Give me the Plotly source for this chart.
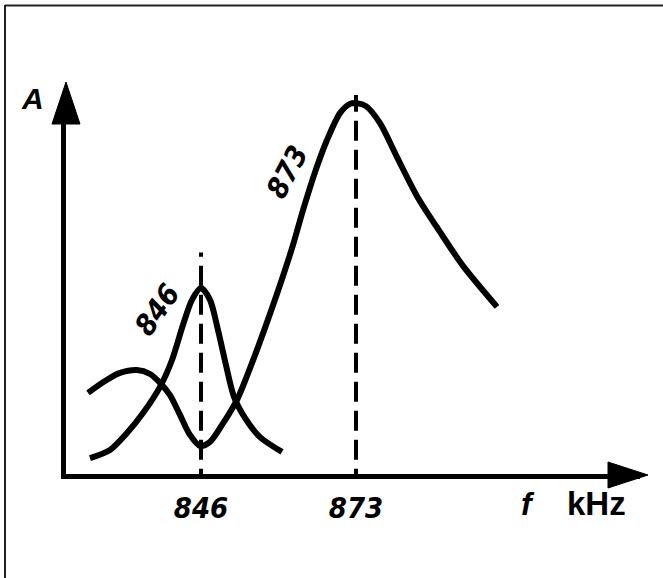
import plotly.graph_objects as go

# ---- data (frequency in kHz, relative amplitude) ----
f_846 = [826.66, 830.15, 833.11, 835.90, 838.86, 840.95, 842.86, 844.43, 846.00,
         847.57, 848.96, 850.35, 851.75, 853.66, 856.28, 860.11]
a_846 = [0.043, 0.065, 0.111, 0.165, 0.236, 0.309, 0.404, 0.472, 0.504,
         0.472, 0.390, 0.295, 0.209, 0.152, 0.100, 0.060]

f_873 = [826.32, 829.28, 831.89, 834.85, 837.12, 838.86, 840.60, 842.34, 844.08,
         845.83, 847.57, 849.66, 852.27, 854.54, 857.15, 859.76, 862.03, 863.77,
         865.86, 867.95, 870.21, 871.96, 873.17, 874.74, 877.18, 880.14, 883.63,
         887.63, 891.64, 897.56]
a_873 = [0.220, 0.252, 0.274, 0.282, 0.271, 0.247, 0.214, 0.160, 0.106,
         0.076, 0.087, 0.133, 0.201, 0.287, 0.396, 0.512, 0.621, 0.715,
         0.818, 0.905, 0.978, 1.003, 1.005, 0.997, 0.951, 0.859, 0.753,
         0.656, 0.564, 0.453]

tick_vals = [846, 873]
tick_text = ["846", "873"]

W, H = 663, 578
def px(x):
    return x / W
def py(y):
    return 1 - y / H

X_RANGE = [822.484, 922.471]
Y_RANGE = [0.0, 1.0271]

digit_font = dict(family="DejaVu Sans Condensed, Liberation Sans Narrow, Liberation Sans",
                  size=29, color="black", weight="bold", style="italic")

fig = go.Figure()
for fx, ay in [(f_846, a_846), (f_873, a_873)]:
    fig.add_trace(go.Scatter(x=fx, y=ay, mode="lines",
                             line=dict(color="black", width=6, shape="spline", smoothing=0.8),
                             hoverinfo="skip", showlegend=False))

shapes = []
# dashed verticals at resonance frequencies
for tv, top in zip(tick_vals, [0.60, 1.05]):
    shapes.append(dict(type="line", xref="x", yref="y", x0=tv, x1=tv, y0=-0.04, y1=top,
                       line=dict(color="black", width=4, dash="20px,9px"), layer="below"))
# arrowheads
shapes.append(dict(type="path", xref="paper", yref="paper",
                   path=f"M {px(66)} {py(82)} L {px(52)} {py(124)} L {px(80)} {py(124)} Z",
                   fillcolor="black", line=dict(color="black", width=1)))
shapes.append(dict(type="path", xref="paper", yref="paper",
                   path=f"M {px(648)} {py(475)} L {px(608)} {py(462)} L {px(608)} {py(488)} Z",
                   fillcolor="black", line=dict(color="black", width=1)))
# frame
shapes.append(dict(type="line", xref="paper", yref="paper", x0=px(5), x1=px(5), y0=py(5), y1=0,
                   line=dict(color="#222", width=2)))
shapes.append(dict(type="line", xref="paper", yref="paper", x0=px(5), x1=1, y0=py(5.5), y1=py(5.5),
                   line=dict(color="#222", width=2)))

annotations = [
    dict(text="846", x=px(157), y=py(310), textangle=-55, font=digit_font),
    dict(text="873", x=px(287), y=py(172), textangle=-62, font=digit_font),
    dict(text="A", x=px(32), y=py(99), font=dict(family="Liberation Sans",
                                                  size=30, color="black", weight="bold", style="italic")),
    dict(text="f", x=px(528), y=py(504), font=dict(family="Liberation Sans",
                                                    size=32, color="black", weight="bold", style="italic")),
    dict(text="kHz", x=px(596), y=py(503), font=dict(family="Liberation Sans", size=33,
                                                      color="black", weight="bold")),
]
for a in annotations:
    a.update(xref="paper", yref="paper", showarrow=False, xanchor="center", yanchor="middle")

fig.update_layout(
    width=W, height=H, margin=dict(l=0, r=0, t=0, b=0),
    paper_bgcolor="white", plot_bgcolor="white",
    shapes=shapes, annotations=annotations, showlegend=False,
    xaxis=dict(domain=[66 / W, 640 / W], range=X_RANGE, showgrid=False, zeroline=False,
               showline=True, linecolor="black", linewidth=5,
               tickvals=tick_vals, ticktext=tick_text, ticks="outside", ticklen=4,
               tickcolor="rgba(0,0,0,0)", tickfont=digit_font, automargin=False, fixedrange=True),
    yaxis=dict(domain=[(H - 474) / H, (H - 95) / H], range=Y_RANGE, showgrid=False, zeroline=False,
               showline=True, linecolor="black", linewidth=5, showticklabels=False, ticks="",
               automargin=False, fixedrange=True),
)
fig.write_html("out.html", config={"staticPlot": True},
               post_script="document.body.style.margin='0';document.body.style.overflow='hidden';")
